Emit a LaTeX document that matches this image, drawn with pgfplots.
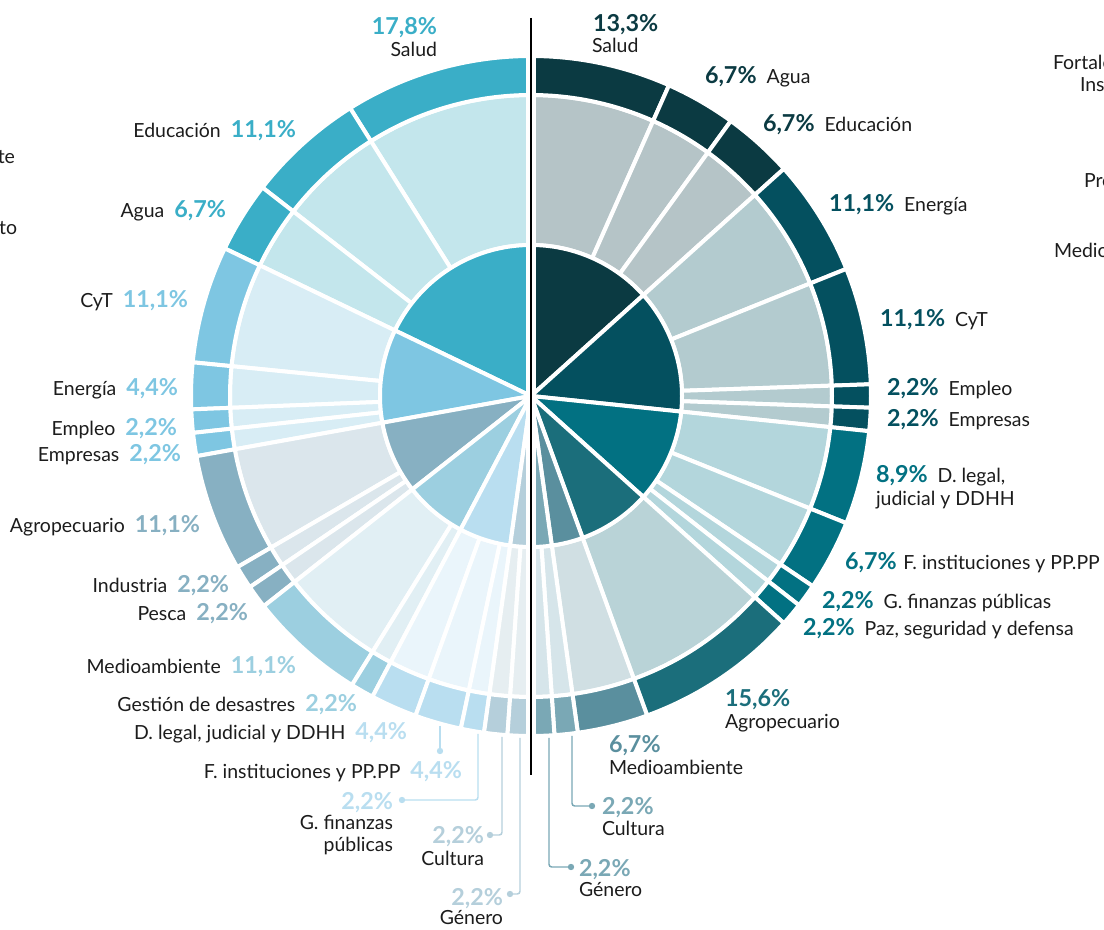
\documentclass[border=0pt]{standalone}
\usepackage{pgfplots}
\pgfplotsset{compat=1.18}
\usepackage{pgfplotstable}
\usepackage{fontspec}
\setmainfont{Lato}

% left half colours (outer ring / inner pie) and middle ring
\definecolor{L0}{HTML}{3AAEC7}\definecolor{LM0}{HTML}{C3E6EC}
\definecolor{L1}{HTML}{7EC6E2}\definecolor{LM1}{HTML}{D8EDF5}
\definecolor{L2}{HTML}{87B0C2}\definecolor{LM2}{HTML}{DBE6EC}
\definecolor{L3}{HTML}{9CCFE0}\definecolor{LM3}{HTML}{E1EFF4}
\definecolor{L4}{HTML}{B9DEF0}\definecolor{LM4}{HTML}{EAF5FB}
\definecolor{L5}{HTML}{B5CFDB}\definecolor{LM5}{HTML}{E6EEF1}
% right half
\definecolor{R0}{HTML}{0B3A42}\definecolor{RM0}{HTML}{B5C4C7}
\definecolor{R1}{HTML}{04505F}\definecolor{RM1}{HTML}{B3CBCF}
\definecolor{R2}{HTML}{027182}\definecolor{RM2}{HTML}{B3D6DC}
\definecolor{R3}{HTML}{1B6E7B}\definecolor{RM3}{HTML}{B9D3D7}
\definecolor{R4}{HTML}{5A8F9E}\definecolor{RM4}{HTML}{D0DFE3}
\definecolor{R5}{HTML}{7AA8B5}\definecolor{RM5}{HTML}{D6E5EA}
\definecolor{txt}{HTML}{1C1C1C}

% p = share (%), g = group of the inner pie
\pgfplotstableread{
p     g
17.8  0
11.1  0
6.7   0
11.1  1
4.4   1
2.2   1
2.2   1
11.1  2
2.2   2
2.2   2
11.1  3
2.2   3
4.4   4
4.4   4
2.2   4
2.2   5
2.2   5
}\lefttab
\pgfplotstableread{
p     g
13.3  0
6.7   0
6.7   0
11.1  1
11.1  1
2.2   1
2.2   1
8.9   2
6.7   2
2.2   2
2.2   2
15.6  3
6.7   4
2.2   5
2.2   5
}\righttab

\makeatletter
\newcommand\buildring[4]{%
  \pgfmathsetmacro\br@a{#1}%
  \pgfmathsetmacro\br@b{#2}%
  \pgfmathtruncatemacro\br@n{max(2,ceil(abs(\br@b-\br@a)))}%
  \gdef\ringpts{}%
  \foreach \k in {0,...,\br@n}{%
    \pgfmathsetmacro\br@t{\br@a+(\br@b-\br@a)*(\k/\br@n)}%
    \pgfmathsetmacro\br@x{#4*cos(\br@t)}%
    \pgfmathsetmacro\br@y{#4*sin(\br@t)}%
    \xdef\ringpts{\ringpts(\br@x,\br@y)}%
  }%
  \ifdim #3pt=0pt
    \xdef\ringpts{\ringpts(0,0)}%
  \else
    \foreach \k in {0,...,\br@n}{%
      \pgfmathsetmacro\br@t{\br@b+(\br@a-\br@b)*(\k/\br@n)}%
      \pgfmathsetmacro\br@x{#3*cos(\br@t)}%
      \pgfmathsetmacro\br@y{#3*sin(\br@t)}%
      \xdef\ringpts{\ringpts(\br@x,\br@y)}%
    }%
  \fi
}
\newcommand\drawslice[5]{%
  \buildring{#2}{#3}{#4}{#5}%
  \edef\ds@cmd{\noexpand\addplot[fill=#1,draw=white,line width=3pt,line join=round] coordinates {\ringpts} -- cycle;}%
  \ds@cmd
}
\newcommand\drawhalf[3]{%
  \pgfplotstablegetrowsof{#1}%
  \pgfmathtruncatemacro\dh@last{\pgfplotsretval-1}%
  \gdef\dh@tot{0}%
  \pgfplotsforeachungrouped \i in {0,...,\dh@last}{%
    \pgfplotstablegetelem{\i}{p}\of{#1}%
    \pgfmathsetmacro\dh@tmp{\dh@tot+\pgfplotsretval}%
    \xdef\dh@tot{\dh@tmp}%
  }%
  \gdef\dh@cum{0}\gdef\dh@gs{0}%
  \pgfplotsforeachungrouped \i in {0,...,\dh@last}{%
    \pgfplotstablegetelem{\i}{p}\of{#1}\let\dh@p\pgfplotsretval
    \pgfplotstablegetelem{\i}{g}\of{#1}\let\dh@g\pgfplotsretval
    \pgfmathsetmacro\dh@new{\dh@cum+\dh@p}%
    \pgfmathsetmacro\dh@a{90+(#2)*180*(\dh@cum/\dh@tot)}%
    \pgfmathsetmacro\dh@b{90+(#2)*180*(\dh@new/\dh@tot)}%
    \drawslice{#3M\dh@g}{\dh@a}{\dh@b}{151}{301}%
    \drawslice{#3\dh@g}{\dh@a}{\dh@b}{301}{340}%
    \pgfmathtruncatemacro\dh@next{\i+1}%
    \ifnum\dh@next>\dh@last
      \def\dh@end{1}%
    \else
      \pgfplotstablegetelem{\dh@next}{g}\of{#1}%
      \ifnum\pgfplotsretval=\dh@g\relax \def\dh@end{0}\else\def\dh@end{1}\fi
    \fi
    \ifnum\dh@end=1
      \pgfmathsetmacro\dh@ga{90+(#2)*180*(\dh@gs/\dh@tot)}%
      \drawslice{#3\dh@g}{\dh@ga}{\dh@b}{0}{151}%
      \xdef\dh@gs{\dh@new}%
    \fi
    \xdef\dh@cum{\dh@new}%
  }%
}
\makeatother

\newcommand\lf{\fontsize{14.6}{17}\selectfont\color{txt}}
\newcommand\pc[2]{{\fontsize{17.5}{20}\selectfont\bfseries\color{#1}#2}}
\newcommand\gap{\hspace{7.5pt}}
\tikzset{every node/.style={inner sep=0pt, outer sep=0pt}}

\begin{document}
\begin{tikzpicture}
\begin{axis}[
  scale only axis, width=828pt, height=696.75pt,
  xmin=-531, xmax=573, ymin=-533, ymax=396,
  axis lines=none, clip=true,
]
\drawhalf{\lefttab}{1}{L}
\drawhalf{\righttab}{-1}{R}

% white band and central line
\addplot[fill=white, draw=none] coordinates {(-5,-345) (5,-345) (5,345) (-5,345)} -- cycle;
\addplot[black, line width=2pt] coordinates {(0,378) (0,-379)};

% leader lines
\addplot[L4, line width=1.1pt, mark=*, mark size=1.8pt, mark indices={2}] coordinates {(-91,-330) (-91,-355)};
\addplot[L4, line width=1.1pt, rounded corners=2pt, mark=*, mark size=1.8pt, mark indices={3}] coordinates {(-53,-338) (-53,-404) (-129,-404)};
\addplot[L5, line width=1.1pt, rounded corners=2pt, mark=*, mark size=1.8pt, mark indices={3}] coordinates {(-29,-341) (-29,-439) (-41,-439)};
\addplot[L5, line width=1.1pt, rounded corners=2pt, mark=*, mark size=1.8pt, mark indices={3}] coordinates {(-11,-342) (-11,-498) (-21,-498)};
\addplot[R5, line width=1.1pt, rounded corners=2pt, mark=*, mark size=1.8pt, mark indices={3}] coordinates {(41,-340) (41,-410) (61,-410)};
\addplot[R5, line width=1.1pt, rounded corners=2pt, mark=*, mark size=1.8pt, mark indices={3}] coordinates {(18,-342) (18,-471) (40,-471)};

% ---- left labels
\node[anchor=base east] at (axis cs:-94,361) {\pc{L0}{17,8\%}};
\node[anchor=base east] at (axis cs:-94,339) {\lf Salud};
\node[anchor=base east] at (axis cs:-235,258) {\lf Educación\gap\pc{L0}{11,1\%}};
\node[anchor=base east] at (axis cs:-305,178) {\lf Agua\gap\pc{L0}{6,7\%}};
\node[anchor=base east] at (axis cs:-343,88) {\lf CyT\gap\pc{L1}{11,1\%}};
\node[anchor=base east] at (axis cs:-353,0) {\lf Energía\gap\pc{L1}{4,4\%}};
\node[anchor=base east] at (axis cs:-354,-40) {\lf Empleo\gap\pc{L1}{2,2\%}};
\node[anchor=base east] at (axis cs:-350,-66) {\lf Empresas\gap\pc{L1}{2,2\%}};
\node[anchor=base east] at (axis cs:-331,-137) {\lf Agropecuario\gap\pc{L2}{11,1\%}};
\node[anchor=base east] at (axis cs:-302,-197) {\lf Industria\gap\pc{L2}{2,2\%}};
\node[anchor=base east] at (axis cs:-283,-225) {\lf Pesca\gap\pc{L2}{2,2\%}};
\node[anchor=base east] at (axis cs:-235,-278) {\lf Medioambiente\gap\pc{L3}{11,1\%}};
\node[anchor=base east] at (axis cs:-174,-316) {\lf Gestión de desastres\gap\pc{L3}{2,2\%}};
\node[anchor=base east] at (axis cs:-124,-344) {\lf D. legal, judicial y DDHH\gap\pc{L4}{4,4\%}};
\node[anchor=base east] at (axis cs:-69,-383) {\lf F. instituciones y PP.PP\gap\pc{L4}{4,4\%}};
\node[anchor=base east] at (axis cs:-138,-414) {\pc{L4}{2,2\%}};
\node[anchor=base east] at (axis cs:-138,-434) {\lf G. finanzas};
\node[anchor=base east] at (axis cs:-138,-456) {\lf públicas};
\node[anchor=base east] at (axis cs:-47,-448) {\pc{L5}{2,2\%}};
\node[anchor=base east] at (axis cs:-47,-469) {\lf Cultura};
\node[anchor=base east] at (axis cs:-28,-509) {\pc{L5}{2,2\%}};
\node[anchor=base east] at (axis cs:-28,-529) {\lf Género};

% ---- right labels
\node[anchor=base west] at (axis cs:62,364) {\pc{R0}{13,3\%}};
\node[anchor=base west] at (axis cs:61,343) {\lf Salud};
\node[anchor=base west] at (axis cs:174,312) {\pc{R0}{6,7\%}\gap\lf Agua};
\node[anchor=base west] at (axis cs:232,264) {\pc{R0}{6,7\%}\gap\lf Educación};
\node[anchor=base west] at (axis cs:298,184) {\pc{R1}{11,1\%}\gap\lf Energía};
\node[anchor=base west] at (axis cs:349,69) {\pc{R1}{11,1\%}\gap\lf CyT};
\node[anchor=base west] at (axis cs:356,0) {\pc{R1}{2,2\%}\gap\lf Empleo};
\node[anchor=base west] at (axis cs:356,-31) {\pc{R1}{2,2\%}\gap\lf Empresas};
\node[anchor=base west] at (axis cs:345,-87) {\pc{R2}{8,9\%}\gap\lf D. legal,};
\node[anchor=base west] at (axis cs:345,-110) {\lf judicial y DDHH};
\node[anchor=base west] at (axis cs:314,-174) {\pc{R2}{6,7\%}\hspace{5pt}\lf F. instituciones y PP.PP};
\node[anchor=base west] at (axis cs:291,-213) {\pc{R2}{2,2\%}\gap\lf G. finanzas públicas};
\node[anchor=base west] at (axis cs:272,-240) {\pc{R2}{2,2\%}\gap\lf Paz, seguridad y defensa};
\node[anchor=base west] at (axis cs:194,-311) {\pc{R3}{15,6\%}};
\node[anchor=base west] at (axis cs:194,-333) {\lf Agropecuario};
\node[anchor=base west] at (axis cs:78,-357) {\pc{R4}{6,7\%}};
\node[anchor=base west] at (axis cs:78,-379) {\lf Medioambiente};
\node[anchor=base west] at (axis cs:71,-419) {\pc{R5}{2,2\%}};
\node[anchor=base west] at (axis cs:71,-440) {\lf Cultura};
\node[anchor=base west] at (axis cs:48,-481) {\pc{R5}{2,2\%}};
\node[anchor=base west] at (axis cs:48,-501) {\lf Género};

% ---- legend texts cut by the frame (as in the reference)
\node[anchor=base east] at (axis cs:-516,232) {\lf Ambiente};
\node[anchor=base east] at (axis cs:-514,161) {\lf Fortalecimiento};
\node[anchor=base west] at (axis cs:522,326) {\lf Fortalecimiento};
\node[anchor=base west] at (axis cs:549,304) {\lf Institucional};
\node[anchor=base west] at (axis cs:553,208) {\lf Productivo};
\node[anchor=base west] at (axis cs:523,138) {\lf Medioambiente};
\end{axis}
\pgfresetboundingbox
\useasboundingbox (0,0) rectangle (828pt,696.75pt);
\end{tikzpicture}
\end{document}
